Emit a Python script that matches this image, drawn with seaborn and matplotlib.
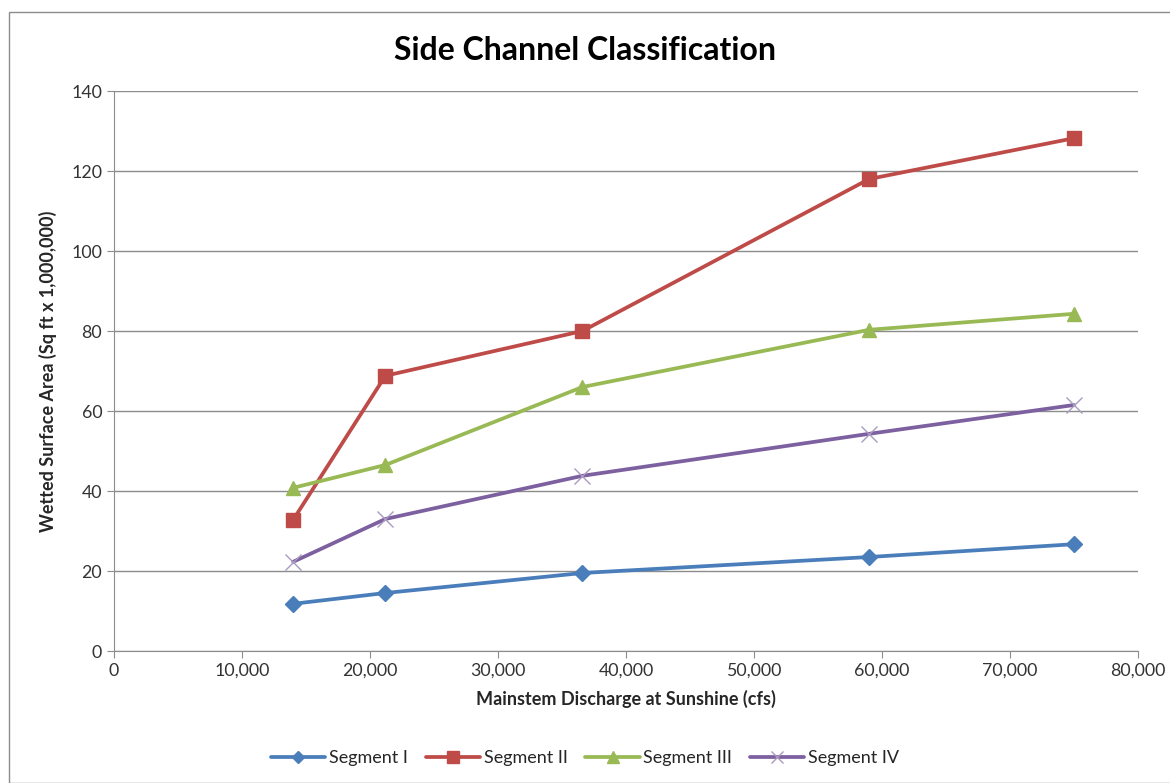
import pandas as pd
import matplotlib.pyplot as plt
import seaborn as sns
from matplotlib.ticker import FuncFormatter, MultipleLocator

# Data
discharge = [14000, 21200, 36600, 59000, 75000]
segment_1 = [11.8, 14.5, 19.5, 23.5, 26.7]
segment_2 = [32.8, 68.8, 80.0, 118.0, 128.2]
segment_3 = [40.8, 46.5, 66.0, 80.3, 84.3]
segment_4 = [22.3, 33.0, 43.8, 54.3, 61.5]
names = ['Segment I', 'Segment II', 'Segment III', 'Segment IV']

rows = []
for name, vals in zip(names, [segment_1, segment_2, segment_3, segment_4]):
    for x, y in zip(discharge, vals):
        rows.append({'Discharge': x, 'Area': y, 'Segment': name})
data = pd.DataFrame(rows)

colors = ['#4A7EBB', '#BE4B48', '#98B954', '#7D60A0']
markers = ['D', 's', '^', 'X']

sns.set_style('white')
plt.rcParams['font.family'] = ['Lato', 'DejaVu Sans']

fig = plt.figure(figsize=(11.7, 7.83), dpi=100)
ax = fig.add_axes([114 / 1170, 1 - 651 / 783, (1138 - 114) / 1170, (651 - 91) / 783])

sns.lineplot(data=data, x='Discharge', y='Area', hue='Segment', palette=colors,
             linewidth=2.7, legend=False, ax=ax)

# markers drawn per series so each gets its own style
for name, col, m in zip(names, colors, markers):
    sub = data[data['Segment'] == name]
    if m == 'X':
        ax.plot(sub['Discharge'], sub['Area'], linestyle='none', marker='x',
                markersize=11, markeredgewidth=1.0, color='#A99BC0', zorder=4)
    else:
        ax.plot(sub['Discharge'], sub['Area'], linestyle='none', marker=m,
                markersize=10 if m != 'D' else 8, color=col, zorder=4)

ax.set_xlim(0, 80000)
ax.set_ylim(0, 140)
ax.xaxis.set_major_locator(MultipleLocator(10000))
ax.yaxis.set_major_locator(MultipleLocator(20))
ax.xaxis.set_major_formatter(FuncFormatter(lambda v, p: f'{int(v):,}'))
ax.grid(axis='y', color='#8c8c8c', linewidth=1)
ax.set_axisbelow(True)

for s in ['top', 'right']:
    ax.spines[s].set_visible(False)
for s in ['left', 'bottom']:
    ax.spines[s].set_color('#8c8c8c')
ax.tick_params(axis='both', which='major', direction='out', length=5,
               color='#8c8c8c', labelsize=12.8, labelcolor='#333333', bottom=True, left=True)

ax.set_xlabel('Mainstem Discharge at Sunshine (cfs)', fontsize=13, fontweight='bold', labelpad=8)
ax.set_ylabel('Wetted Surface Area (Sq ft x 1,000,000)', fontsize=13, fontweight='bold', labelpad=10)
fig.text(0.5, 1 - 50 / 783, 'Side Channel Classification', ha='center', va='center',
         fontsize=23, fontweight='bold', color='black')

handles = []
for name, col, m in zip(names, colors, markers):
    if m == 'X':
        h, = ax.plot([], [], color=col, linewidth=2.7, marker='x', markersize=9,
                     markeredgecolor='#A99BC0', markeredgewidth=1.0)
    else:
        h, = ax.plot([], [], color=col, linewidth=2.7, marker=m, markersize=8 if m != 'D' else 6)
    handles.append(h)
fig.legend(handles, names, loc='center', bbox_to_anchor=(0.5, 1 - 758 / 783), ncol=4,
           frameon=False, fontsize=13, handlelength=3.0, columnspacing=1.0, handletextpad=0.2)

# frame around the chart area
fig.patches.append(plt.Rectangle((9 / 1170, 0), 1.2, 1 - 12 / 783, transform=fig.transFigure,
                                 fill=False, edgecolor='#8c8c8c', linewidth=1))

plt.savefig('out.png', dpi=100)
